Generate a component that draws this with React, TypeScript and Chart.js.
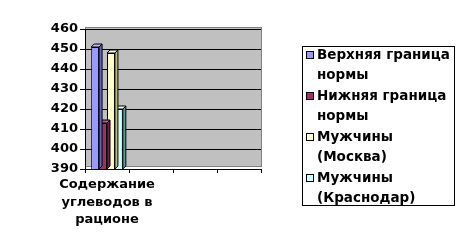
import React, { useEffect, useRef } from "react";
import { Chart, registerables } from "chart.js";
Chart.register(...registerables);

const categories: (string | string[])[] = [["Содержание", "углеводов в", "рационе"], "", "", ""];
const seriesNames: string[][] = [
  ["Верхняя граница", "нормы"],
  ["Нижняя граница", "нормы"],
  ["Мужчины", "(Москва)"],
  ["Мужчины", "(Краснодар)"],
];
const upperNorm = [451, null, null, null];
const lowerNorm = [413, null, null, null];
const menMoscow = [448, null, null, null];
const menKrasnodar = [420, null, null, null];
const yMin = 390;
const yMax = 460;
const yStep = 10;

const fills = ["#9999FF", "#993366", "#FFFFCC", "#CCFFFF"];
const sides = ["#6666AA", "#662244", "#BBBB88", "#669999"];
const tops = ["#BBBBFF", "#BB5588", "#FFFFEE", "#EEFFFF"];
const FONT = "'DejaVu Sans', sans-serif";

const bgPlugin = {
  id: "bg3d",
  beforeDraw(chart: any) {
    const { ctx, chartArea: a } = chart;
    if (!a) return;
    ctx.save();
    ctx.fillStyle = "#C0C0C0";
    ctx.fillRect(a.left, a.top - 2, a.right - a.left + 1, a.bottom - a.top);
    ctx.strokeStyle = "#808080";
    ctx.lineWidth = 1;
    ctx.strokeRect(a.left + 0.5, a.top - 1.5, a.right - a.left, a.bottom - a.top - 1);
    ctx.restore();
  },
  afterDatasetDraw(chart: any, args: any) {
    const i = args.index;
    const meta = chart.getDatasetMeta(i);
    const { ctx, chartArea: a } = chart;
    const d = 3;
    ctx.save();
    meta.data.forEach((el: any, j: number) => {
      const v = chart.data.datasets[i].data[j];
      if (v == null) return;
      const half = el.width / 2;
      const l = el.x - half;
      const r = el.x + half;
      const t = el.y;
      const b = Math.min(el.base, a.bottom);
      ctx.lineWidth = 1;
      ctx.strokeStyle = "#000";
      ctx.fillStyle = sides[i];
      ctx.beginPath();
      ctx.moveTo(r, t);
      ctx.lineTo(r + d, t - d);
      ctx.lineTo(r + d, b - d);
      ctx.lineTo(r, b);
      ctx.closePath();
      ctx.fill();
      ctx.stroke();
      ctx.fillStyle = tops[i];
      ctx.beginPath();
      ctx.moveTo(l, t);
      ctx.lineTo(l + d, t - d);
      ctx.lineTo(r + d, t - d);
      ctx.lineTo(r, t);
      ctx.closePath();
      ctx.fill();
      ctx.stroke();
    });
    ctx.restore();
  },
  afterDraw(chart: any) {
    const { ctx } = chart;
    ctx.save();
    const bx = 302, by = 46, bw = 152, bh = 159;
    ctx.strokeStyle = "#000";
    ctx.lineWidth = 1;
    ctx.strokeRect(bx + 0.5, by + 0.5, bw, bh);
    ctx.font = `bold 13.5px ${FONT}`;
    ctx.textBaseline = "middle";
    seriesNames.forEach((lines, i) => {
      const y0 = 55 + i * 41;
      ctx.fillStyle = fills[i];
      ctx.fillRect(306.5, y0 - 3.5, 7, 7);
      ctx.strokeStyle = "#000";
      ctx.strokeRect(306.5, y0 - 3.5, 7, 7);
      ctx.fillStyle = "#000";
      lines.forEach((ln, k) => ctx.fillText(ln, 317, y0 + k * 20));
    });
    ctx.restore();
  },
};

export default function App() {
  const ref = useRef<HTMLCanvasElement>(null);
  useEffect(() => {
    const series = [upperNorm, lowerNorm, menMoscow, menKrasnodar];
    const chart = new Chart(ref.current!, {
      type: "bar",
      data: {
        labels: categories,
        datasets: series.map((data, i) => ({
          label: seriesNames[i].join(" "),
          data,
          backgroundColor: fills[i],
          borderColor: "#000",
          borderWidth: 1,
          categoryPercentage: 0.72,
          barPercentage: 1,
        })),
      },
      options: {
        responsive: false,
        animation: false,
        layout: { padding: { left: 0, top: 29, right: 202, bottom: 0 } },
        plugins: { legend: { display: false }, tooltip: { enabled: false } },
        scales: {
          x: {
            offset: true,
            grid: { offset: true, drawOnChartArea: false, drawTicks: true, tickLength: 4, color: "#000" },
            border: { display: true, color: "#000" },
            ticks: {
              color: "#000",
              padding: 3,
              maxRotation: 0,
              autoSkip: false,
              font: { family: FONT, size: 13, weight: "bold", lineHeight: 1.35 },
            },
            afterFit(s: any) { s.height = 82; },
          },
          y: {
            min: yMin,
            max: yMax,
            grid: { color: "#000", tickLength: 5 },
            border: { display: true, color: "#000" },
            ticks: {
              stepSize: yStep,
              color: "#000",
              padding: 2,
              font: { family: FONT, size: 13, weight: "bold" },
            },
            afterFit(s: any) { s.width = 85; },
          },
        },
      },
      plugins: [bgPlugin],
    });
    return () => chart.destroy();
  }, []);
  return (
    <div style={{ position: "fixed", left: 0, top: 0, width: 463, height: 251, background: "#fff" }}>
      <canvas ref={ref} width={463} height={251} />
    </div>
  );
}
